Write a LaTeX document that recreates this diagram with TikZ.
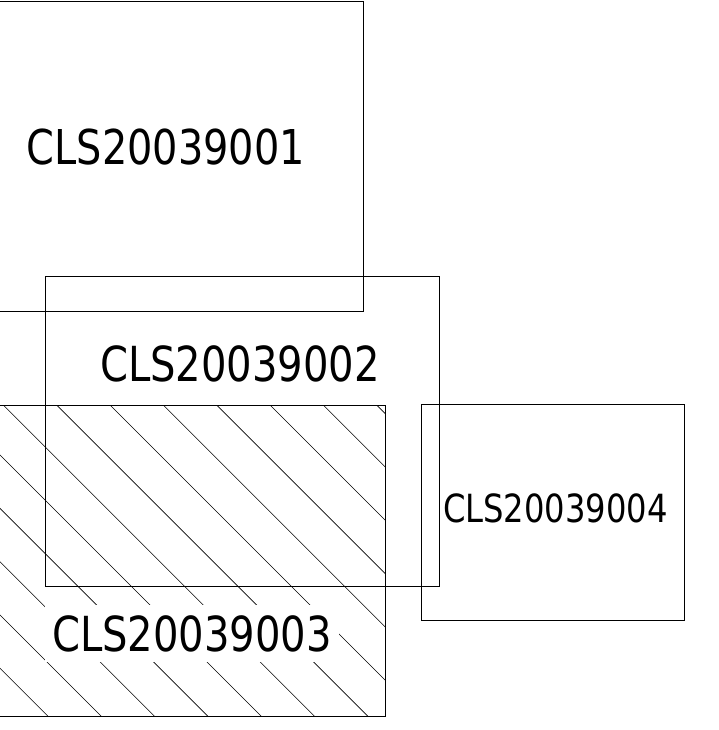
\documentclass[tikz,border=0pt]{standalone}
\usepackage{fontspec}
\setmainfont{DejaVu Sans}[FakeStretch=0.83]
\begin{document}
\begin{tikzpicture}[x=1pt,y=-1pt,
  box/.style={draw=black,line width=0.8pt,rectangle,inner sep=0pt},
  lbl/.style={inner sep=0pt,text=black},
  hatch/.style={draw=black,line width=0.55pt}]
\useasboundingbox (0,0) rectangle (718,730);
% box geometry
\coordinate (b3tl) at (-1,405);
\coordinate (b3br) at (385,716);
% hatching of box 3
\begin{scope}
  \clip (b3tl) rectangle (b3br);
  \foreach \k in {-8,...,9}{
    \pgfmathsetmacro{\c}{-401.7+53.33*\k}
    \draw[hatch] (\c+380,380) -- (\c+740,740);
  }
\end{scope}
% label of box 3 knocks out hatching
\node[lbl,fill=white,inner xsep=7.5pt,inner ysep=10pt,font=\fontsize{48.3}{50}\selectfont] (t3) at (192,633.5) {CLS20039003};
% boxes
\node[box,minimum width=394pt,minimum height=310pt] (b1) at (166,156) {};
\node[box,minimum width=394pt,minimum height=310pt] (b2) at (242,431) {};
\node[box,minimum width=386pt,minimum height=311pt] (b3) at (192,560.5) {};
\node[box,minimum width=263pt,minimum height=216pt] (b4) at (552.5,512) {};
% labels
\node[lbl,font=\fontsize{48}{50}\selectfont] (t1) at (166,147.5) {CLS20039001};
\node[lbl,font=\fontsize{48.3}{50}\selectfont] (t2) at (240,364) {CLS20039002};
\node[lbl,font=\fontsize{38.8}{40}\selectfont] (t4) at (555.5,508.5) {CLS20039004};
\end{tikzpicture}
\end{document}
